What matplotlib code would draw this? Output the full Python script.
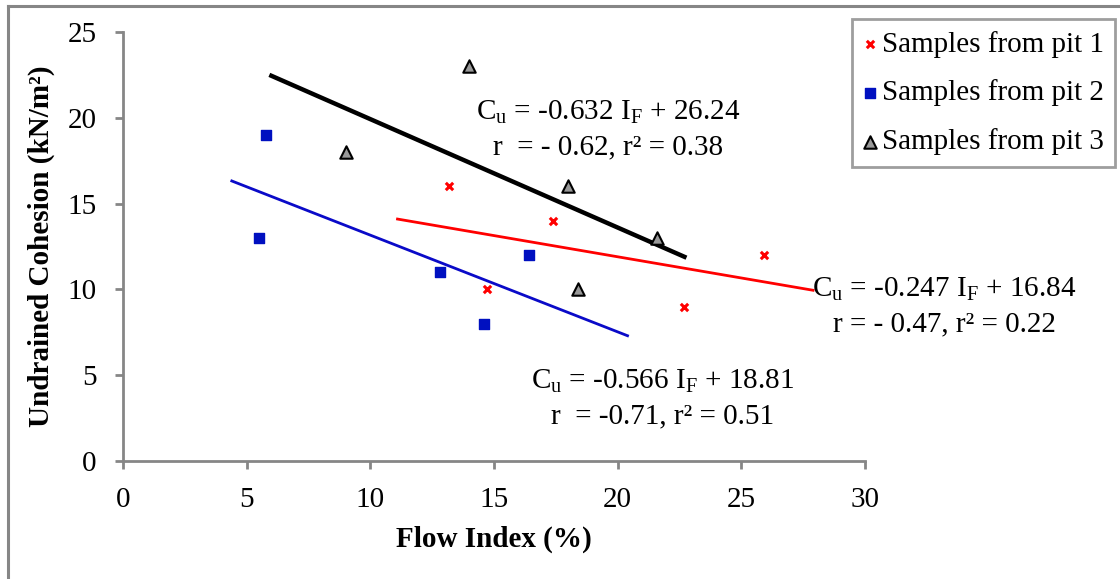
import numpy as np
import matplotlib.pyplot as plt
from matplotlib.lines import Line2D

plt.rcParams['font.family'] = ['Liberation Serif', 'DejaVu Serif']
plt.rcParams['mathtext.fontset'] = 'custom'
plt.rcParams['mathtext.rm'] = 'Liberation Serif'
plt.rcParams['mathtext.it'] = 'Liberation Serif:italic'
plt.rcParams['mathtext.bf'] = 'Liberation Serif:bold'

# data
pit1_x = [13.2, 17.4, 14.7, 22.7, 25.9]
pit1_y = [16, 14, 10, 9, 12]
pit2_x = [5.8, 5.5, 12.8, 16.4, 14.6]
pit2_y = [19, 13, 11, 12, 8]
pit3_x = [14.0, 9.0, 18.0, 21.6, 18.4]
pit3_y = [23, 18, 16, 13, 10]

# trend line end points (x, y)
trend1_x = [11.1, 27.9]
trend1_y = [14.10, 9.95]
trend2_x = [4.4, 20.4]
trend2_y = [16.32, 7.30]
trend3_x = [6.0, 22.7]
trend3_y = [22.45, 11.90]

labels = ['Samples from pit 1', 'Samples from pit 2', 'Samples from pit 3']

gray = '#868686'
fs = 21

fig = plt.figure(figsize=(11.2, 5.79), dpi=100)
ax = fig.add_axes([0.1098, 0.2038, 0.6625, 0.7409])

ax.plot(trend1_x, trend1_y, color='#ff0000', lw=2.0, zorder=2)
ax.plot(trend2_x, trend2_y, color='#0a0ac8', lw=2.0, zorder=2)
ax.plot(trend3_x, trend3_y, color='black', lw=3.2, zorder=2)

ax.scatter(pit1_x, pit1_y, marker='x', s=28, color='#ff0000', linewidths=2.2,
           label=labels[0], zorder=3)
ax.scatter(pit2_x, pit2_y, marker='s', s=55, color='#0010c0', edgecolors='#0010c0',
           label=labels[1], zorder=3)
ax.scatter(pit3_x, pit3_y, marker='^', s=80, facecolor='#999999', edgecolors='black',
           linewidths=1.5, label=labels[2], zorder=3)

ax.set_xlim(0, 30)
ax.set_ylim(0, 25)
ax.set_xticks(np.arange(0, 31, 5))
ax.set_yticks(np.arange(0, 26, 5))
for s in ['top', 'right']:
    ax.spines[s].set_visible(False)
for s in ['left', 'bottom']:
    ax.spines[s].set_color(gray)
    ax.spines[s].set_linewidth(2)
ax.tick_params(direction='out', length=6, width=2, color=gray,
               labelsize=fs, pad=13)

ax.set_xlabel('Flow Index (%)', fontsize=fs, fontweight='bold', labelpad=9)
ax.set_ylabel('Undrained Cohesion (kN/m²)', fontsize=fs, fontweight='bold', labelpad=9)

# equations
def eq(x, y, a, b, r, r2, sp=''):
    ax.text(x, y, r'C$_\mathrm{u}$ = ' + a + r' I$_\mathrm{F}$ + ' + b,
            fontsize=fs, ha='center', va='center')
    ax.text(x, y - 2.05, 'r ' + sp + '= ' + r + ', r² = ' + r2,
            fontsize=fs, ha='center', va='center')

eq(19.6, 20.3, '-0.632', '26.24', '- 0.62', '0.38', ' ')
eq(33.2, 10.0, '-0.247', '16.84', '- 0.47', '0.22')
eq(21.8, 4.65, '-0.566', '18.81', '-0.71', '0.51', ' ')

leg = ax.legend(loc='upper left', bbox_to_anchor=(852 / 1120, 1 - 19 / 579),
                bbox_transform=fig.transFigure, fontsize=fs, frameon=True,
                fancybox=False, edgecolor=gray, handlelength=0.4,
                handletextpad=0.22, borderpad=0.4, labelspacing=0.75,
                borderaxespad=0, scatterpoints=1)
leg.get_frame().set_linewidth(2)

# outer chart frame
fig.add_artist(Line2D([8 / 1120, 8 / 1120], [0, 1 - 6 / 579], color=gray, lw=2.2))
fig.add_artist(Line2D([8 / 1120, 1], [1 - 6 / 579, 1 - 6 / 579], color=gray, lw=2.2))

fig.savefig('out.png', dpi=100)
